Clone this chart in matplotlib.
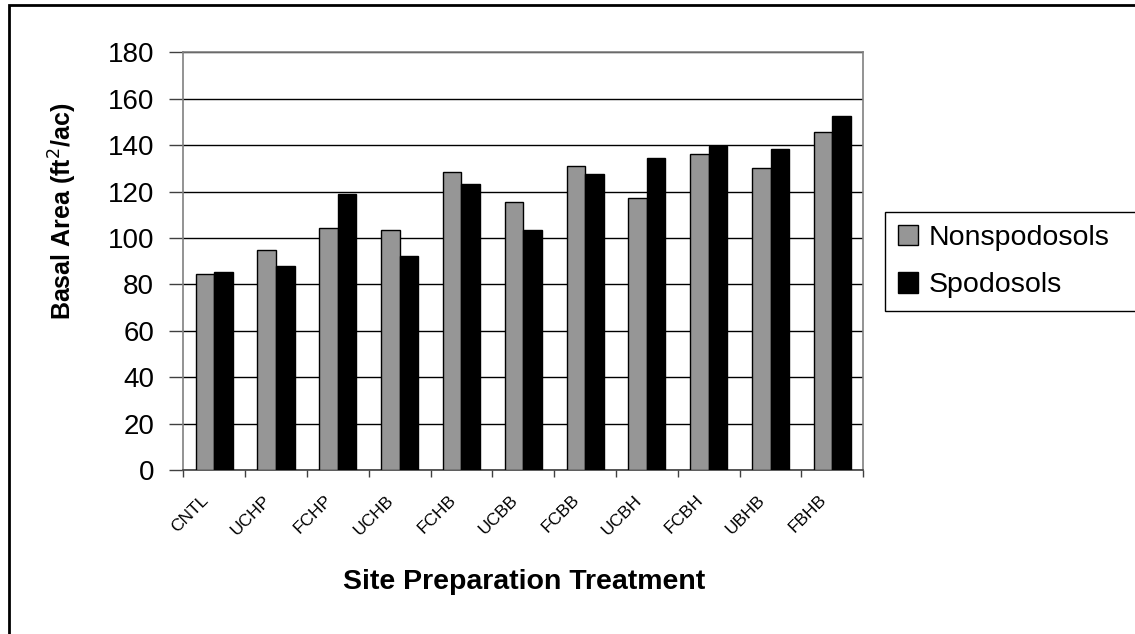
import numpy as np
import matplotlib
matplotlib.use('Agg')
import matplotlib.pyplot as plt
from matplotlib.patches import Rectangle

plt.rcParams['font.family'] = ['Liberation Sans', 'DejaVu Sans']

treatments = ['CNTL', 'UCHP', 'FCHP', 'UCHB', 'FCHB', 'UCBB', 'FCBB', 'UCBH', 'FCBH', 'UBHB', 'FBHB']
nonspodosols = [84.3, 94.8, 104.3, 103.4, 128.4, 115.4, 131.0, 117.2, 136.2, 130.2, 145.7]
spodosols = [85.5, 88.1, 119.1, 92.2, 123.3, 103.6, 127.7, 134.6, 139.7, 138.2, 152.7]

fig = plt.figure(figsize=(11.35, 6.34), dpi=100)
ax = fig.add_axes([183.3 / 1135, 1 - 470 / 634, 680 / 1135, 417.7 / 634])

x = np.arange(len(treatments))
w = 0.3
ax.bar(x + 0.2, nonspodosols, w, align='edge', color='#969696', edgecolor='black', linewidth=1,
       label='Nonspodosols', zorder=3)
ax.bar(x + 0.5, spodosols, w, align='edge', color='black', edgecolor='black', linewidth=1,
       label='Spodosols', zorder=3)

ax.set_xlim(0, len(treatments))
ax.set_ylim(0, 180)
ax.set_yticks(np.arange(0, 181, 20))
ax.yaxis.grid(True, color='black', linewidth=1)
ax.set_axisbelow(True)

ax.set_xticks(np.arange(len(treatments) + 1))
ax.set_xticklabels([])
# slanted labels sit a bit left of the category centre in the original
ax.set_xticks(x + 0.37, minor=True)
ax.set_xticklabels(treatments, minor=True, rotation=45, ha='right', va='center',
                   rotation_mode='anchor', fontsize=12.5)
ax.tick_params(axis='x', which='minor', length=0, pad=20)
ax.tick_params(axis='x', which='major', direction='out', length=5, width=1, color='#404040')
ax.tick_params(axis='y', direction='out', length=10, width=1, color='#404040', labelsize=20, pad=11)

for s in ['top', 'right', 'left']:
    ax.spines[s].set_color('#808080')
    ax.spines[s].set_linewidth(1.2)
ax.spines['bottom'].set_color('#404040')
ax.spines['bottom'].set_linewidth(1.2)

fig.text(63 / 1135, 1 - 211.5 / 634, 'Basal Area (ft$^2$/ac)', rotation=90, ha='center', va='center',
         fontsize=18, fontweight='bold')
fig.text(524.5 / 1135, 1 - 582 / 634, 'Site Preparation Treatment', ha='center', va='center',
         fontsize=20.5, fontweight='bold')

leg = fig.legend(loc='upper left', bbox_to_anchor=(885 / 1135, 1 - 309 / 634, 0.3, 97 / 634),
                 mode='expand', borderaxespad=0, fontsize=20.5, fancybox=False, framealpha=1,
                 edgecolor='black', handlelength=0.72, handleheight=0.72, handletextpad=0.36,
                 borderpad=0.45, labelspacing=0.75)
leg.get_frame().set_linewidth(1)

fig.patches.append(Rectangle((9 / 1135, -0.1), 1.2, 1.1 - 5 / 634, transform=fig.transFigure,
                             fill=False, edgecolor='black', linewidth=2))

fig.savefig('out.png', dpi=100)
